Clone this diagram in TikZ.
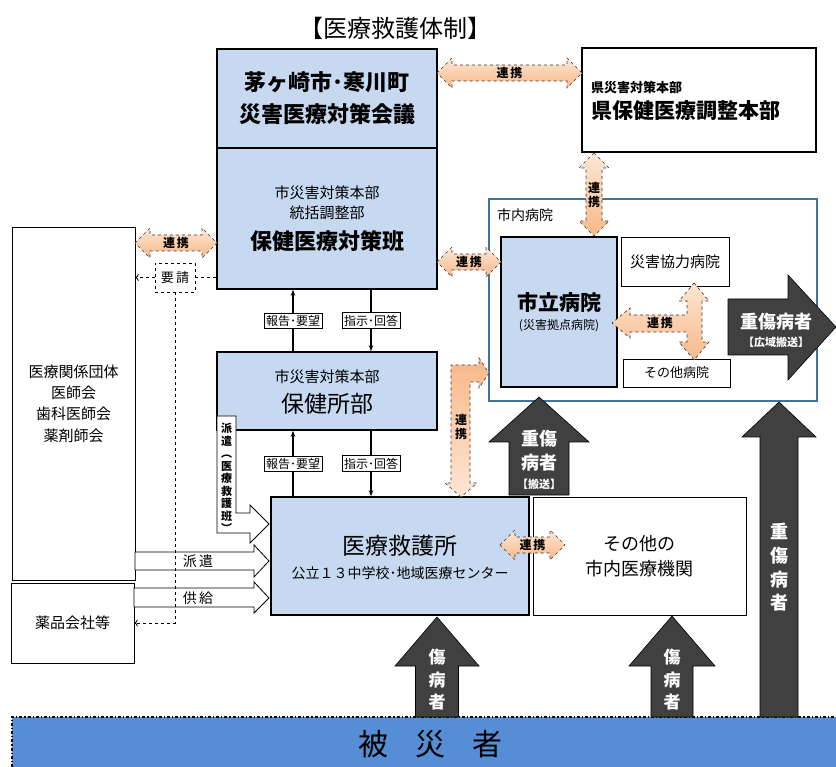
\documentclass[tikz,border=0pt]{standalone}
\usepackage{fontspec}
\setmainfont{Noto Sans CJK JP}
\usetikzlibrary{arrows.meta,positioning}

\definecolor{boxblue}{HTML}{C6D9F1}
\definecolor{peach}{HTML}{F8B888}
\definecolor{peachlight}{HTML}{FDE6D4}
\definecolor{arrowgray}{HTML}{404040}
\definecolor{bandblue}{HTML}{558ED5}
\definecolor{frameblue}{HTML}{41719C}

\newcommand{\fs}[2]{\fontsize{#1}{#2}\selectfont}

\tikzset{
  bluebox/.style={draw, line width=1.6pt, fill=boxblue, inner sep=0pt, align=center},
  plainbox/.style={draw, line width=0.8pt, fill=white, inner sep=0pt, align=center},
  linkarrow/.style={draw=black!80, dashed, line width=0.6pt, top color=peachlight, bottom color=peach},
  linklabel/.style={font=\fs{12}{14}\bfseries, inner sep=0pt, align=center},
  casualty/.style={draw=black, line width=0.6pt, fill=arrowgray},
  casualtext/.style={text=white, font=\fs{17}{22.5}\bfseries, align=center, inner sep=0pt},
  whitearrow/.style={draw, line width=0.8pt, fill=white},
  tag/.style={draw, fill=white, line width=0.8pt, inner sep=2pt, font=\fs{12}{14}},
  flow/.style={line width=1.2pt, -{Stealth[length=6pt]}},
  request/.style={dashed, line width=0.8pt}
}

% horizontal double block arrow from x #1 to x #2 at y #3, label node #4
\newcommand{\hlink}[4]{%
  \path [linkarrow] (#1, #3) -- (#1+15, #3-15) -- (#1+15, #3-8)
    -- (#2-15, #3-8) -- (#2-15, #3-15) -- (#2, #3) -- (#2-15, #3+15)
    -- (#2-15, #3+8) -- (#1+15, #3+8) -- (#1+15, #3+15) -- cycle;
  \node [linklabel] (#4) at ({(#1+#2)/2}, #3) {連\,携};}

% vertical double block arrow at x #1 from y #2 to y #3, label node #4
\newcommand{\vlink}[4]{%
  \path [linkarrow] (#1, #2) -- (#1+15, #2+15) -- (#1+8, #2+15)
    -- (#1+8, #3-15) -- (#1+15, #3-15) -- (#1, #3) -- (#1-15, #3-15)
    -- (#1-8, #3-15) -- (#1-8, #2+15) -- (#1-15, #2+15) -- cycle;
  \node [linklabel] (#4) at (#1, {(#2+#3)/2}) {連\\携};}

% upward block arrow: tip (#1,#2), head base y #3, head half width #4,
% body half width #5, foot y #6
\newcommand{\upblock}[6]{%
  \path [casualty] (#1, #2) -- (#1+#4, #3) -- (#1+#5, #3) -- (#1+#5, #6)
    -- (#1-#5, #6) -- (#1-#5, #3) -- (#1-#4, #3) -- cycle;}

\begin{document}
\begin{tikzpicture}[x=1pt, y=-1pt]
  \useasboundingbox (0, 0) rectangle (836, 767);

  % Title
  \node [font=\fs{24}{28}] (title) at (395, 28) {【医療救護体制】};

  % City headquarters
  \node [bluebox, minimum width=220pt, minimum height=99pt,
    font=\fs{22}{32}\bfseries] (kaigi) at (327, 98.5)
    {茅ヶ崎市･寒川町\\災害医療対策会議};
  \node [bluebox, minimum width=220pt, minimum height=141pt] (hanbu) at (327, 218.5) {};
  \node [font=\fs{15}{20}, align=center] (hanbu-sub) at (327, 203) {市災害対策本部\\統括調整部};
  \node [font=\fs{22}{26}\bfseries] (hanbu-name) at (327, 241) {保健医療対策班};

  % Prefecture
  \node [plainbox, line width=1.6pt, minimum width=234pt, minimum height=104pt] (ken) at (699, 100) {};
  \node [anchor=west, inner sep=0pt, font=\fs{13}{16}\bfseries] (ken-sub) at (591, 88) {県災害対策本部};
  \node [anchor=west, inner sep=0pt, font=\fs{21}{26}\bfseries] (ken-name) at (591, 111) {県保健医療調整本部};

  % Hospitals in the city
  \node [draw=frameblue, line width=1.2pt, minimum width=328pt, minimum height=202pt,
    inner sep=0pt] (shinai) at (653, 300) {};
  \node [anchor=west, inner sep=0pt, font=\fs{14}{16}] (shinai-label) at (497, 215) {市内病院};
  \node [bluebox, minimum width=116pt, minimum height=150pt] (shiritsu) at (559, 312) {};
  \node [font=\fs{21}{26}\bfseries] (shiritsu-name) at (559, 302) {市立病院};
  \node [font=\fs{12}{14}] (shiritsu-sub) at (559, 326) {(災害拠点病院)};
  \node [plainbox, minimum width=108pt, minimum height=49pt, font=\fs{15}{18}] (kyoryoku) at (675, 261.5) {災害協力病院};
  \node [plainbox, minimum width=107pt, minimum height=28pt, font=\fs{13}{16}] (sonota-byoin) at (676.5, 373) {その他病院};

  % Health center
  \node [bluebox, minimum width=220pt, minimum height=78pt] (hokenjo) at (327, 391) {};
  \node [font=\fs{15}{18}] (hokenjo-sub) at (327, 377) {市災害対策本部};
  \node [font=\fs{23}{26}] (hokenjo-name) at (327, 404) {保健所部};

  % First aid station
  \node [bluebox, minimum width=258pt, minimum height=118pt] (kyugo) at (400, 556) {};
  \node [font=\fs{23}{26}] (kyugo-name) at (400, 546) {医療救護所};
  \node [font=\fs{14}{16}] (kyugo-sub) at (400, 573) {公立１３中学校･地域医療センター};
  \node [plainbox, minimum width=213pt, minimum height=118pt, font=\fs{18}{25}] (sonota) at (639.5, 556)
    {その他の\\市内医療機関};

  % Outside organisations
  \node [plainbox, minimum width=123pt, minimum height=353pt, font=\fs{15}{21.3}] (dantai) at (73.5, 403.5)
    {医療関係団体\\医師会\\歯科医師会\\薬剤師会};
  \node [plainbox, minimum width=123pt, minimum height=80pt, font=\fs{15}{18}] (yakuhin) at (72.5, 623) {薬品会社等};
  \node [plainbox, dashed, minimum width=40pt, minimum height=29pt, font=\fs{13}{16}] (yosei) at (175, 277.5) {要\,請};

  % Affected people
  \fill [bandblue] (12, 717) rectangle (836, 767);
  \draw [line width=1.2pt, dash dot] (12, 767) -- (12, 717) -- (836, 717);
  \node [font=\fs{30}{34}] (higaisha) at (430, 744) {被\hspace{27pt}災\hspace{27pt}者};

  % Reports and orders
  \coordinate (col-up) at (293, 0);
  \coordinate (col-down) at (371, 0);
  \draw [flow] (hokenjo.north -| col-up) -- (hanbu.south -| col-up)
    node [tag, midway] (houkoku-a) {報告･要望};
  \draw [flow] (hanbu.south -| col-down) -- (hokenjo.north -| col-down)
    node [tag, midway] (shiji-a) {指示･回答};
  \draw [flow] (kyugo.north -| col-up) -- (hokenjo.south -| col-up)
    node [tag, midway] (houkoku-b) {報告･要望};
  \draw [flow] (hokenjo.south -| col-down) -- (kyugo.north -| col-down)
    node [tag, midway] (shiji-b) {指示･回答};

  % Dispatch and supply
  \path [whitearrow] (135, 552) -- (254, 552) -- (254, 545) -- (269, 561)
    -- (254, 577) -- (254, 570) -- (135, 570) -- cycle;
  \node [font=\fs{14}{16}] (haken-label) at (198, 561) {派\,遣};
  \path [whitearrow] (134, 588) -- (254, 588) -- (254, 582) -- (269, 598)
    -- (254, 613) -- (254, 607) -- (134, 607) -- cycle;
  \node [font=\fs{14}{16}] (kyokyu-label) at (198, 598) {供\,給};
  \path [whitearrow] (217, 416) -- (236, 416) -- (236, 513) -- (250, 513)
    -- (250, 505) -- (269, 524) -- (250, 543) -- (250, 533) -- (217, 533) -- cycle;
  \node [font=\fs{11}{12.5}\bfseries, align=center, inner sep=0pt] (haken-han) at (226.5, 478)
    {派\\遣\\︵\\医\\療\\救\\護\\班\\︶};

  % Request
  \draw [request] (yosei.east) -- (yosei.east -| hanbu.west);
  \draw [request, ->] (yosei.west) -- (yosei.west -| dantai.east);
  \draw [request, ->] (yosei.south) |- (yakuhin.east);

  % Links
  \hlink{437}{582}{73}{link-ken}
  \hlink{135}{217}{243}{link-dantai}
  \hlink{437}{501}{262}{link-shiritsu}
  \hlink{500}{565}{545}{link-sonota}
  \vlink{594}{153}{236}{link-kenbyoin}
  \path [linkarrow] (694, 283) -- (709, 301) -- (702, 301) -- (702, 342) -- (709, 342)
    -- (694, 360) -- (679, 342) -- (687, 342) -- (687, 332) -- (630, 332) -- (630, 338)
    -- (612, 323) -- (630, 308) -- (630, 315) -- (687, 315) -- (687, 301) -- (679, 301) -- cycle;
  \node [linklabel] (link-byoin) at (660, 323) {連\,携};
  \path [linkarrow, top color=peach, bottom color=peachlight] (461, 497) -- (445, 483)
    -- (451, 483) -- (451, 365) -- (479, 365) -- (479, 358) -- (489, 373) -- (479, 388)
    -- (479, 382) -- (470, 382) -- (470, 483) -- (477, 483) -- cycle;
  \node [linklabel] (link-kyugo) at (461, 427) {連\\携};

  % Patients
  \upblock{539}{397}{442}{50}{30}{495}
  \node [casualtext, font=\fs{18}{24}\bfseries] (jusho-a) at (539, 451) {重傷\\病者};
  \node [casualtext, font=\fs{11}{13}\bfseries] (hanso-a) at (539, 484) {【搬送】};
  \upblock{437}{617}{666}{42}{21.5}{717}
  \node [casualtext] (shobyo-a) at (437, 680) {傷\\病\\者};
  \upblock{672}{616}{666}{43}{21}{717}
  \node [casualtext] (shobyo-b) at (672, 680) {傷\\病\\者};
  \upblock{779}{402}{437}{37}{19}{717}
  \node [casualtext, font=\fs{18}{23.7}\bfseries] (jusho-b) at (779, 567.5) {重\\傷\\病\\者};
  \path [casualty] (728, 299) -- (788, 299) -- (788, 275) -- (836, 327) -- (788, 380)
    -- (788, 355) -- (728, 355) -- cycle;
  \node [casualtext, font=\fs{18}{22}\bfseries] (jusho-c) at (776, 322) {重傷病者};
  \node [casualtext, font=\fs{11}{13}\bfseries] (koiki) at (776, 342) {【広域搬送】};
\end{tikzpicture}
\end{document}
